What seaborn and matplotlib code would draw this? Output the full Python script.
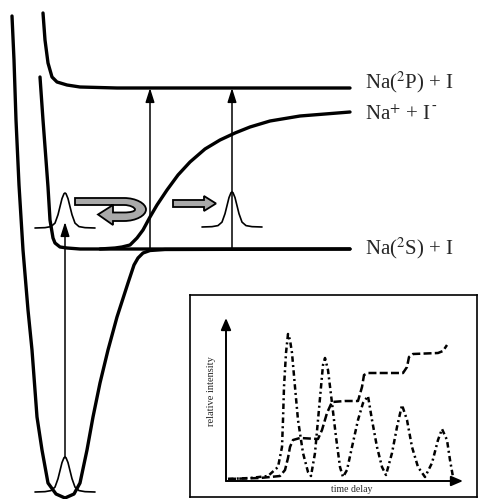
import numpy as np
import pandas as pd
import matplotlib
matplotlib.use("Agg")
import matplotlib.pyplot as plt
from matplotlib.path import Path
from matplotlib.patches import PathPatch, Polygon
import seaborn as sns

# potential curves (x to the right, y downwards, pixels)
ground_x = [12, 14, 16, 19, 23, 28, 32, 37, 42, 48, 56, 65, 74, 80, 87, 93, 100, 108, 117, 128, 134, 138, 143, 150, 165, 350]
ground_y = [16, 60, 120, 185, 250, 310, 350, 417, 450, 483, 494, 498, 494, 483, 450, 417, 383, 350, 317, 283, 265, 258, 253, 250.5, 249.5, 249]

cov_x = [40, 43, 46, 48, 50, 53, 55, 60, 67, 80, 350]
cov_y = [77, 120, 160, 187, 220, 238, 243, 247, 248, 249, 249]

ionic_x = [100, 115, 122, 130, 137, 143, 150, 157, 167, 178, 190, 205, 220, 235, 250, 270, 300, 350]
ionic_y = [249, 248, 247, 245, 238, 230, 217, 205, 190, 175, 162, 149, 140, 133, 127, 121, 116, 112]

upper_x = [43, 45, 48, 52, 57, 67, 80, 117, 350]
upper_y = [13, 40, 63, 77, 82, 85, 87, 88, 88]

# wavepacket shape (offset from centre, fraction of height)
packet_dx = [-30, -20, -14, -10, -7, -5, -3, -1, 0, 1, 3, 5, 7, 10, 14, 20, 30]
packet_h = [0, 0.01, 0.04, 0.14, 0.38, 0.61, 0.84, 0.98, 1, 0.98, 0.84, 0.61, 0.38, 0.14, 0.04, 0.01, 0]
packet_cx = [65, 65, 232]
packet_base = [492, 228, 227]
packet_height = 35

# vertical excitation arrows: x, start y, tip y
arrow_x = [65, 150, 232]
arrow_y0 = [458, 249, 249]
arrow_y1 = [222, 88, 88]

labels = [r"Na($^2$P) + I", r"Na$^{+}$ + I", r"Na($^2$S) + I"]
label_y = [88, 120, 254]

# inset: time delay vs relative intensity
osc_t = [2, 24, 42, 52, 56, 57, 58, 60, 62, 64, 66, 69, 72, 77, 82, 85, 89, 92, 95, 97, 99, 102, 106, 110,
         114, 117, 121, 126, 132, 137, 142, 146, 151, 156, 160, 166, 171, 176, 181, 186, 192, 199, 206,
         212, 216, 221, 224, 227]
osc_i = [2, 3, 5, 14, 34, 61, 94, 128, 147, 141, 128, 94, 61, 28, 9, 5, 28, 61, 94, 116, 123, 111, 78, 44,
         14, 4, 11, 34, 61, 78, 85, 61, 34, 14, 6, 28, 54, 76, 61, 34, 14, 4, 18, 41, 52, 41, 21, 4]
step_t = [2, 34, 54, 59, 62, 64, 67, 74, 92, 96, 101, 106, 119, 132, 136, 138, 142, 159, 177, 181, 183, 187,
          212, 217, 221]
step_i = [2, 3, 5, 11, 23, 34, 41, 43, 42, 51, 68, 79, 80, 80, 94, 106, 108, 108, 108, 114, 124, 127,
          128, 130, 136]

sns.set_style("white")
plt.rcParams["font.family"] = ["Liberation Serif", "DejaVu Serif"]
plt.rcParams["mathtext.fontset"] = "stix"

fig = plt.figure(figsize=(4.8, 4.99), dpi=100)
ax = fig.add_axes([0, 0, 1, 1])
ax.set_xlim(0, 480)
ax.set_ylim(499, 0)
ax.axis("off")

lw = 2.4
for xs, ys in [(ground_x, ground_y), (cov_x, cov_y), (ionic_x, ionic_y), (upper_x, upper_y)]:
    sns.lineplot(x=xs, y=ys, sort=False, estimator=None, color="black", lw=lw, ax=ax)

for cx, base in zip(packet_cx, packet_base):
    px = [cx + d for d in packet_dx]
    py = [base - h * packet_height for h in packet_h]
    sns.lineplot(x=px, y=py, sort=False, estimator=None, color="black", lw=1.2, ax=ax)

for x, y0, y1 in zip(arrow_x, arrow_y0, arrow_y1):
    ax.annotate("", xy=(x, y1), xytext=(x, y0),
                arrowprops=dict(arrowstyle="-|>,head_length=0.85,head_width=0.27",
                                color="black", lw=1.1, shrinkA=0, shrinkB=0))

for i, (txt, y) in enumerate(zip(labels, label_y)):
    t = ax.text(365, y, txt, fontsize=15, va="baseline", ha="left")
    if i == 1:
        # small superscript hyphen after the I
        ax.annotate("-", xy=(1, 1), xycoords=t, xytext=(0.5, 4), textcoords="offset points",
                    fontsize=10, ha="left", va="top")

# grey u-turn arrow
gray = "#a9a9a9"
cx0, cy0 = 124, 209.5
verts = [(75, 198), (cx0, 198),
         (cx0 + 12, 198), (cx0 + 22, cy0 - 6), (cx0 + 22, cy0),
         (cx0 + 22, cy0 + 6), (cx0 + 12, 221), (cx0, 221),
         (113, 221), (113, 225), (98, 214.5), (113, 205), (113, 212.5), (cx0, 212.5),
         (cx0 + 6, 212.5), (cx0 + 11, cy0 + 2), (cx0 + 11, cy0),
         (cx0 + 11, cy0 - 2), (cx0 + 6, 205), (cx0, 205),
         (75, 205), (75, 198)]
codes = [Path.MOVETO, Path.LINETO,
         Path.CURVE4, Path.CURVE4, Path.CURVE4,
         Path.CURVE4, Path.CURVE4, Path.CURVE4,
         Path.LINETO, Path.LINETO, Path.LINETO, Path.LINETO, Path.LINETO, Path.LINETO,
         Path.CURVE4, Path.CURVE4, Path.CURVE4,
         Path.CURVE4, Path.CURVE4, Path.CURVE4,
         Path.LINETO, Path.CLOSEPOLY]
ax.add_patch(PathPatch(Path(verts, codes), facecolor=gray, edgecolor="black", lw=1.3, zorder=3))

# grey straight arrow
ax.add_patch(Polygon([(173, 200), (204, 200), (204, 196), (216, 203.5), (204, 211), (204, 207), (173, 207)],
                     closed=True, facecolor=gray, edgecolor="black", lw=1.3, zorder=3))

# inset
ins = fig.add_axes([190 / 480, 2 / 499, 287 / 480, 202 / 499])
ins.set_xlim(-36, 251)
ins.set_ylim(-16, 186)
ins.set_xticks([])
ins.set_yticks([])
for s in ins.spines.values():
    s.set_linewidth(1.2)
    s.set_color("black")

df = pd.DataFrame({"time delay": osc_t, "relative intensity": osc_i})
sns.lineplot(data=df, x="time delay", y="relative intensity", sort=False, estimator=None,
             color="black", lw=1.8, linestyle=(0, (2.2, 1.3, 0.8, 1.3)), ax=ins)
df2 = pd.DataFrame({"time delay": step_t, "relative intensity": step_i})
sns.lineplot(data=df2, x="time delay", y="relative intensity", sort=False, estimator=None,
             color="black", lw=1.8, linestyle=(0, (3.2, 1.3)), ax=ins)
ins.set_xlabel("")
ins.set_ylabel("")

ins.annotate("", xy=(0, 163), xytext=(0, 0),
             arrowprops=dict(arrowstyle="-|>,head_length=0.7,head_width=0.3",
                             color="black", lw=1.4, shrinkA=0, shrinkB=0))
ins.annotate("", xy=(237, 0), xytext=(0, 0),
             arrowprops=dict(arrowstyle="-|>,head_length=0.7,head_width=0.3",
                             color="black", lw=1.4, shrinkA=0, shrinkB=0))
ins.text(-14, 90, "relative intensity", rotation=90, fontsize=7.5, ha="center", va="center")
ins.text(126, -9, "time delay", fontsize=7, ha="center", va="center")

fig.savefig("out.png", dpi=100)
